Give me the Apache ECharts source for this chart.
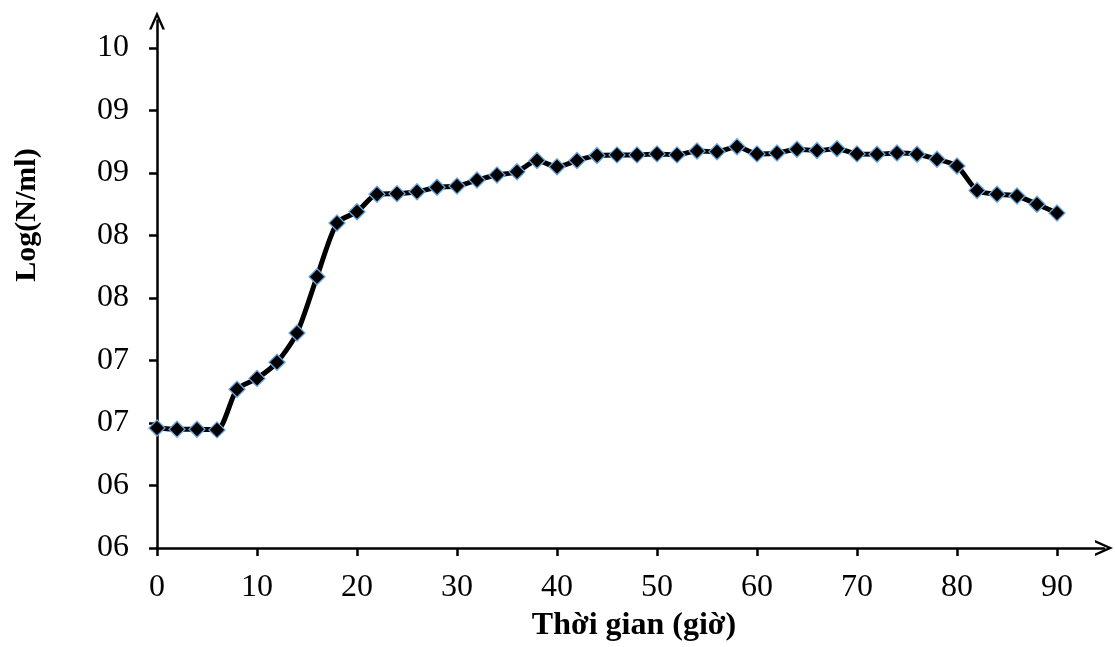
<!DOCTYPE html>
<html>
<head>
<meta charset="utf-8">
<script src="https://cdn.jsdelivr.net/npm/echarts@6/dist/echarts.min.js"></script>
<style>
  html, body { margin: 0; padding: 0; background: #fff; }
  #chart { width: 1115px; height: 647px; }
</style>
</head>
<body>
<div id="chart"></div>
<script>
// Sampling times (hours)
const hours = [0, 2, 4, 6, 8, 10, 12, 14, 16, 18, 20, 22, 24, 26, 28, 30, 32, 34, 36, 38,
  40, 42, 44, 46, 48, 50, 52, 54, 56, 58, 60, 62, 64, 66, 68, 70, 72, 74, 76, 78,
  80, 82, 84, 86, 88, 90];
// Log(N/ml) at each sampling time
const logCounts = [6.96, 6.95, 6.95, 6.945, 7.27, 7.357, 7.486, 7.72, 8.17, 8.60,
  8.69, 8.83, 8.835, 8.85, 8.886, 8.896, 8.944, 8.984, 9.01, 9.10,
  9.05, 9.10, 9.14, 9.145, 9.145, 9.153, 9.145, 9.176, 9.17, 9.21,
  9.153, 9.16, 9.19, 9.18, 9.194, 9.153, 9.15, 9.16, 9.15, 9.11,
  9.056, 8.86, 8.83, 8.816, 8.75, 8.68];
// Axis tick positions and their printed labels
const xTicks = [0, 10, 20, 30, 40, 50, 60, 70, 80, 90];
const yTicks = [6, 6.5, 7, 7.5, 8, 8.5, 9, 9.5, 10];
const yTickLabels = ['06', '06', '07', '07', '08', '08', '09', '09', '10'];
const xTitle = 'Thời gian (giờ)';
const yTitle = 'Log(N/ml)';

const serif = '"Liberation Serif", "Times New Roman", serif';
// open chevron arrow head, tip pointing up in its own frame
const chevron = 'path://M0,18 L8,0 L16,18 L13.4,18 L8,5.8 L2.6,18 Z';

const chart = echarts.init(document.getElementById('chart'), null, { renderer: 'canvas' });
chart.setOption({
  backgroundColor: '#ffffff',
  animation: false,
  grid: { left: 157, right: 11, top: 20.5, bottom: 99, containLabel: false },
  xAxis: {
    type: 'value',
    min: 0,
    max: 94.7,
    interval: 10,
    splitLine: { show: false },
    axisLine: {
      show: true,
      onZero: false,
      lineStyle: { color: '#000', width: 2.5 },
      symbol: ['none', chevron],
      symbolSize: [17, 18],
      symbolOffset: [0, 0]
    },
    axisTick: { show: true, customValues: xTicks, length: 8, inside: false, lineStyle: { color: '#000', width: 2.5 } },
    axisLabel: {
      customValues: xTicks,
      margin: 24,
      color: '#000',
      fontFamily: serif,
      fontSize: 32
    }
  },
  yAxis: {
    type: 'value',
    min: 6,
    max: 10.22,
    interval: 0.5,
    splitLine: { show: false },
    axisLine: {
      show: true,
      onZero: false,
      lineStyle: { color: '#000', width: 2.5 },
      symbol: ['none', chevron],
      symbolSize: [17, 18],
      symbolOffset: [0, 0]
    },
    axisTick: { show: true, customValues: yTicks, length: 8, inside: false, lineStyle: { color: '#000', width: 2.5 } },
    axisLabel: {
      customValues: yTicks,
      margin: 28,
      color: '#000',
      fontFamily: serif,
      fontSize: 32,
      formatter: function (v) {
        const i = yTicks.findIndex(t => Math.abs(t - v) < 1e-6);
        return i >= 0 ? yTickLabels[i] : '';
      }
    }
  },
  graphic: [
    {
      type: 'text',
      x: 634, y: 626,
      style: {
        text: xTitle,
        fontFamily: serif, fontSize: 32, fontWeight: 'bold', fill: '#000',
        align: 'center', verticalAlign: 'middle'
      }
    },
    {
      type: 'text',
      x: 27, y: 215,
      rotation: Math.PI / 2,
      style: {
        text: yTitle,
        fontFamily: serif, fontSize: 30, fontWeight: 'bold', fill: '#000',
        align: 'center', verticalAlign: 'middle'
      }
    }
  ],
  series: [{
    type: 'line',
    data: hours.map((h, i) => [h, logCounts[i]]),
    smooth: 0.25,
    symbol: 'diamond',
    symbolSize: 16,
    showAllSymbol: true,
    lineStyle: { color: '#000', width: 5 },
    itemStyle: { color: '#000', borderColor: '#6aa6dc', borderWidth: 1.3 },
    z: 3
  }]
});
</script>
</body>
</html>
